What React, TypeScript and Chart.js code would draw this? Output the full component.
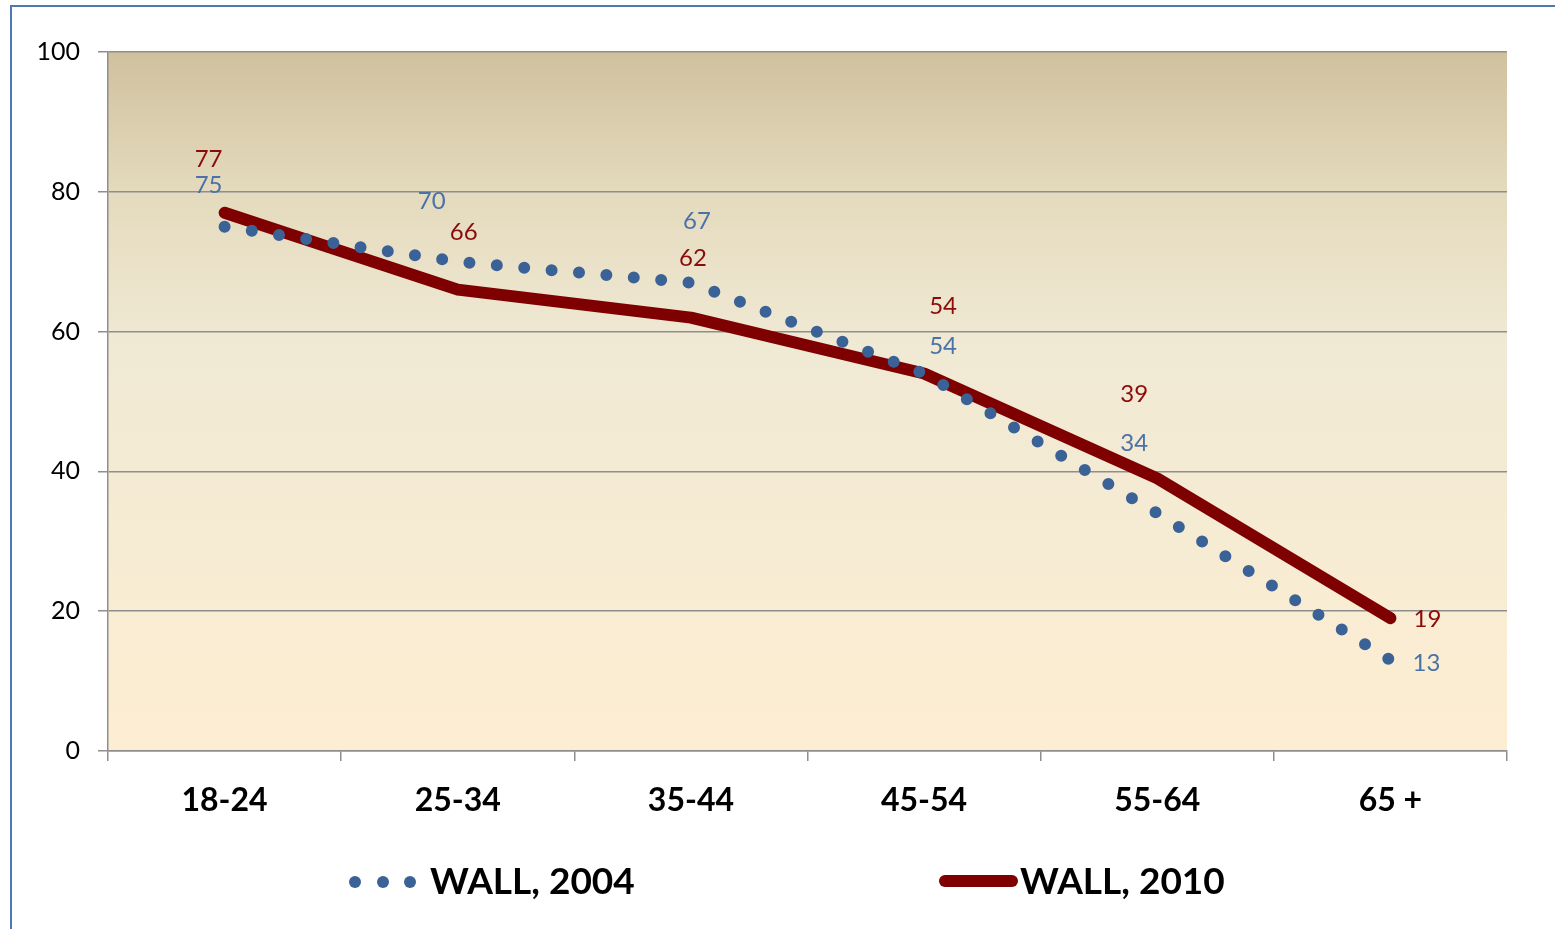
import { useEffect, useRef } from 'react';
import { Chart, registerables } from 'chart.js';

Chart.register(...registerables);

const categories = ['18-24', '25-34', '35-44', '45-54', '55-64', '65 +'];
const wall2004 = [75, 70, 67, 54, 34, 13];
const wall2010 = [77, 66, 62, 54, 39, 19];
const seriesNames = ['WALL, 2004', 'WALL, 2010'];
const yMin = 0;
const yMax = 100;
const yStep = 20;

// label offsets (pixels) relative to each data point — styling only
const labelOffsets2004 = [[-16, -41], [-26, -60], [6, -61], [19, -27], [-23, -70], [36, 3]];
const labelOffsets2010 = [[-16, -54], [6, -57], [2, -59], [19, -67], [-23, -84], [37, 1]];

const FONT = 'Lato, "Open Sans", sans-serif';
const DOT_COLOR = '#3A6296';
const DOT_LABEL = '#4A72A8';
const LINE_COLOR = '#7F0000';
const LINE_LABEL = '#8B0B0B';
const GRID = '#8E8E8E';

const bgPlugin = {
  id: 'bg',
  beforeDraw(chart: any) {
    const { ctx, chartArea: a, width, height } = chart;
    ctx.save();
    ctx.fillStyle = '#ffffff';
    ctx.fillRect(0, 0, width, height);
    const g = ctx.createLinearGradient(0, a.top, 0, a.bottom);
    g.addColorStop(0, 'rgb(208,193,158)');
    g.addColorStop(0.2, 'rgb(228,218,189)');
    g.addColorStop(0.42, 'rgb(240,233,212)');
    g.addColorStop(1, 'rgb(253,238,210)');
    ctx.fillStyle = g;
    ctx.fillRect(a.left, a.top, a.right - a.left, a.bottom - a.top);
    // outer frame
    ctx.strokeStyle = '#4F77B0';
    ctx.lineWidth = 2;
    ctx.beginPath();
    ctx.moveTo(11, height);
    ctx.lineTo(11, 6);
    ctx.lineTo(width, 6);
    ctx.stroke();
    ctx.restore();
  },
};

const labelPlugin = {
  id: 'vlabels',
  afterDatasetsDraw(chart: any) {
    const { ctx } = chart;
    const sets = [
      { data: wall2004, offs: labelOffsets2004, color: DOT_LABEL, idx: 0 },
      { data: wall2010, offs: labelOffsets2010, color: LINE_LABEL, idx: 1 },
    ];
    ctx.save();
    ctx.font = `24px ${FONT}`;
    ctx.textAlign = 'center';
    ctx.textBaseline = 'middle';
    sets.forEach((s) => {
      const meta = chart.getDatasetMeta(s.idx);
      ctx.fillStyle = s.color;
      meta.data.forEach((pt: any, i: number) => {
        ctx.fillText(String(s.data[i]), pt.x + s.offs[i][0], pt.y + s.offs[i][1]);
      });
    });
    ctx.restore();
  },
};

const legendPlugin = {
  id: 'customLegend',
  afterDraw(chart: any) {
    const { ctx } = chart;
    const y = 882;
    ctx.save();
    ctx.fillStyle = DOT_COLOR;
    [355, 383, 410].forEach((x) => {
      ctx.beginPath();
      ctx.arc(x, y, 6, 0, Math.PI * 2);
      ctx.fill();
    });
    ctx.strokeStyle = LINE_COLOR;
    ctx.lineWidth = 12;
    ctx.lineCap = 'round';
    ctx.beginPath();
    ctx.moveTo(945, 881);
    ctx.lineTo(1012, 881);
    ctx.stroke();
    ctx.fillStyle = '#000000';
    ctx.font = `bold 37px ${FONT}`;
    ctx.textAlign = 'left';
    ctx.textBaseline = 'middle';
    ctx.fillText(seriesNames[0], 430, y);
    ctx.fillText(seriesNames[1], 1020, y);
    ctx.restore();
  },
};

export default function App() {
  const ref = useRef<HTMLCanvasElement>(null);

  useEffect(() => {
    if (!ref.current) return;
    const chart = new Chart(ref.current, {
      type: 'line',
      data: {
        labels: categories,
        datasets: [
          {
            label: seriesNames[0],
            data: wall2004,
            borderColor: DOT_COLOR,
            borderWidth: 12,
            borderDash: [0, 27.5],
            borderCapStyle: 'round',
            pointRadius: 0,
            tension: 0,
            fill: false,
          },
          {
            label: seriesNames[1],
            data: wall2010,
            borderColor: LINE_COLOR,
            borderWidth: 12,
            borderCapStyle: 'round',
            borderJoinStyle: 'round',
            pointRadius: 0,
            tension: 0,
            fill: false,
          },
        ],
      },
      options: {
        animation: false,
        responsive: false,
        devicePixelRatio: 1,
        layout: { padding: { left: 0, right: 48, top: 52, bottom: 0 } },
        plugins: {
          legend: { display: false },
          tooltip: { enabled: false },
        },
        scales: {
          x: {
            offset: true,
            grid: {
              offset: true,
              drawOnChartArea: false,
              drawTicks: true,
              tickLength: 10,
              color: GRID,
              lineWidth: 1.5,
            },
            border: { color: GRID, width: 1.5 },
            ticks: {
              color: '#000000',
              font: { family: FONT, size: 32, weight: 'bold' },
              padding: 20,
              maxRotation: 0,
            },
            afterFit(s: any) {
              s.height = 178;
            },
          },
          y: {
            min: yMin,
            max: yMax,
            ticks: {
              stepSize: yStep,
              color: '#000000',
              font: { family: FONT, size: 25 },
              padding: 18,
            },
            grid: {
              color: GRID,
              lineWidth: 1.5,
              tickLength: 10,
              drawTicks: true,
            },
            border: { color: GRID, width: 1.5 },
            afterFit(s: any) {
              s.width = 108;
            },
          },
        },
      },
      plugins: [bgPlugin, labelPlugin, legendPlugin],
    });
    return () => chart.destroy();
  }, []);

  return (
    <div style={{ position: 'fixed', left: 0, top: 0, width: 1555, height: 929 }}>
      <canvas ref={ref} width={1555} height={929} />
    </div>
  );
}
